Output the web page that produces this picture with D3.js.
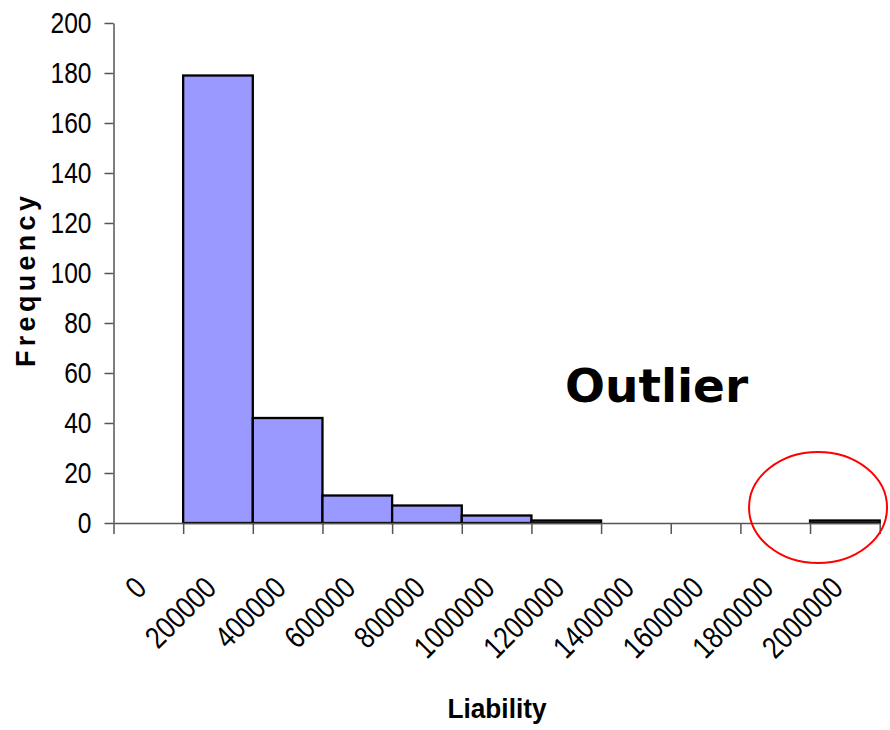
<!DOCTYPE html>
<html>
<head>
<meta charset="utf-8">
<script src="https://cdn.jsdelivr.net/npm/d3@7"></script>
<style>
  html, body { margin: 0; padding: 0; background: #fff; }
  svg { display: block; }
</style>
</head>
<body>
<svg id="chart" width="890" height="730"></svg>
<script>
// Histogram of liability amounts (bin lower bounds) and their frequencies
const bins = ["0", "200000", "400000", "600000", "800000", "1000000",
              "1200000", "1400000", "1600000", "1800000", "2000000"];
const frequency = [0, 179, 42, 11, 7, 3, 1, 0, 0, 0, 1];
const yTicks = [0, 20, 40, 60, 80, 100, 120, 140, 160, 180, 200];

const svg = d3.select("#chart");

const plot = { left: 113.5, right: 879.7, top: 23, bottom: 523 };
const narrow = 0.82; // horizontal condensing of the tick label font

const x = d3.scaleBand()
  .domain(bins)
  .range([plot.left, plot.right])
  .padding(0);

const y = d3.scaleLinear()
  .domain([0, 200])
  .range([plot.bottom, plot.top]);

// Bin boundaries for the x-axis tick marks
const edge = d3.scaleLinear()
  .domain([0, bins.length])
  .range([plot.left, plot.right]);

// Bars (empty bins are not drawn)
svg.append("g")
  .selectAll("rect")
  .data(bins.map((b, i) => ({ bin: b, value: frequency[i] })).filter(d => d.value > 0))
  .join("rect")
  .attr("x", d => x(d.bin))
  .attr("y", d => y(d.value))
  .attr("width", x.bandwidth())
  .attr("height", d => y(0) - y(d.value))
  .attr("fill", "#9999ff")
  .attr("stroke", "#000")
  .attr("stroke-width", 2.3);

// Y axis
const yAxis = svg.append("g")
  .attr("transform", `translate(${plot.left},0)`)
  .call(d3.axisLeft(y).tickValues(yTicks).tickSize(9).tickPadding(13).tickSizeOuter(0));
yAxis.select(".domain").attr("stroke", "#555").attr("stroke-width", 1.5);
yAxis.selectAll(".tick line").attr("stroke", "#555").attr("stroke-width", 1.5);
yAxis.selectAll(".tick text")
  .attr("x", 0)
  .attr("transform", `translate(-22,0) scale(${narrow},1)`)
  .attr("fill", "#000")
  .style("font-family", "'Liberation Sans', Arial, sans-serif")
  .style("font-size", "30px");

// X axis: ticks on bin boundaries
const xAxis = svg.append("g")
  .attr("transform", `translate(0,${plot.bottom})`)
  .call(d3.axisBottom(edge).tickValues(d3.range(bins.length + 1)).tickFormat("").tickSize(11).tickSizeOuter(0));
xAxis.select(".domain").attr("stroke", "#555").attr("stroke-width", 1.5);
xAxis.selectAll(".tick line").attr("stroke", "#555").attr("stroke-width", 1.5);

// Rotated bin labels
svg.append("g")
  .selectAll("text")
  .data(bins)
  .join("text")
  .attr("transform", d => `translate(${x(d) + x.bandwidth() / 2},590) rotate(-45) scale(${narrow},1)`)
  .attr("text-anchor", "end")
  .style("font-family", "'Liberation Sans', Arial, sans-serif")
  .style("font-size", "31px")
  .attr("fill", "#000")
  .text(d => d);

// Axis titles
svg.append("text")
  .attr("transform", "translate(35,367) rotate(-90)")
  .attr("text-anchor", "start")
  .style("font-family", "'Liberation Sans', Arial, sans-serif")
  .style("font-size", "27px")
  .style("font-weight", "bold")
  .style("letter-spacing", "4.3px")
  .text("Frequency");

svg.append("text")
  .attr("transform", "translate(497,718) scale(0.92,1)")
  .attr("text-anchor", "middle")
  .style("font-family", "'Liberation Sans', Arial, sans-serif")
  .style("font-size", "28.5px")
  .style("font-weight", "bold")
  .text("Liability");

// Outlier annotation
svg.append("text")
  .attr("x", 565)
  .attr("y", 402)
  .style("font-family", "'DejaVu Sans', Verdana, sans-serif")
  .style("font-size", "47px")
  .style("font-weight", "bold")
  .text("Outlier");

svg.append("ellipse")
  .attr("cx", x("2000000") + 8)
  .attr("cy", y(0) - 15.5)
  .attr("rx", 69)
  .attr("ry", 55.5)
  .attr("fill", "none")
  .attr("stroke", "#ff0000")
  .attr("stroke-width", 2);
</script>
</body>
</html>
